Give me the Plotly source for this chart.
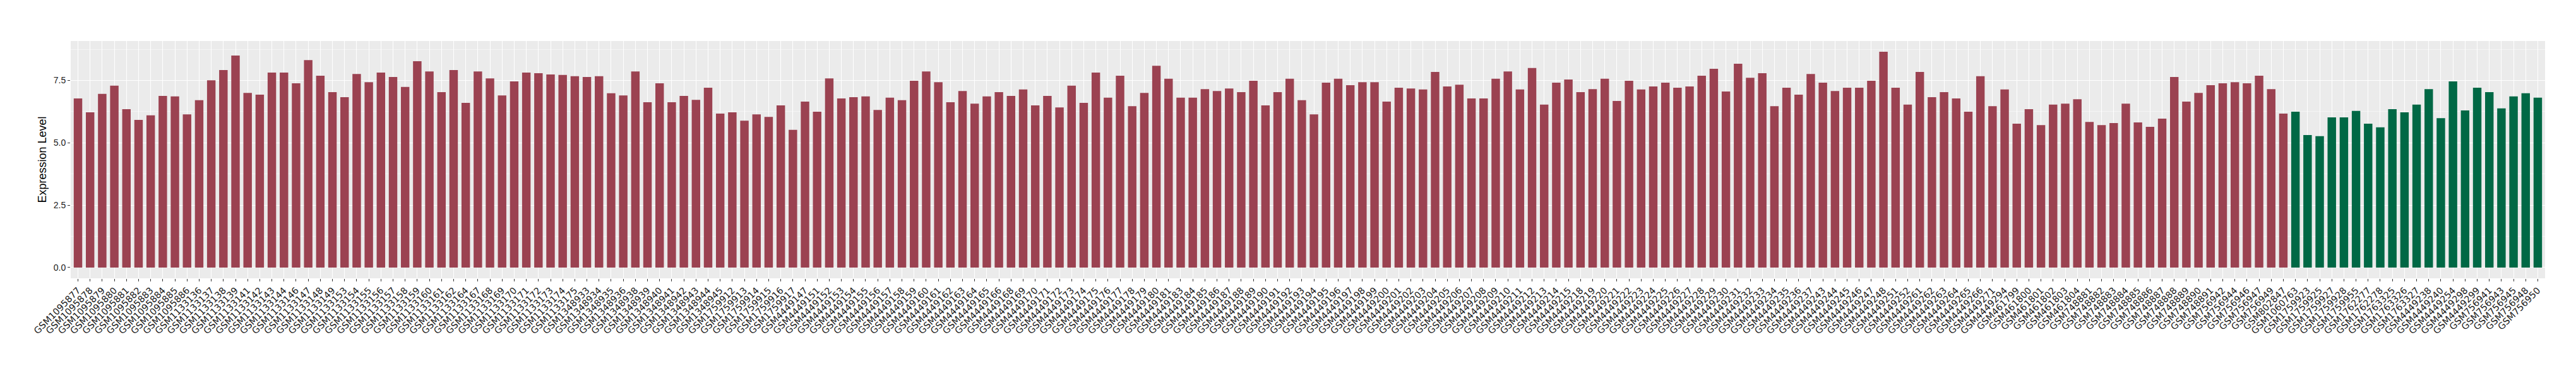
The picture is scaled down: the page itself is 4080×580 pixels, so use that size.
import plotly.graph_objects as go

samples = [
    "GSM1095877", "GSM1095878", "GSM1095879", "GSM1095880", "GSM1095881",
    "GSM1095882", "GSM1095883", "GSM1095884", "GSM1095885", "GSM1095886",
    "GSM1133136", "GSM1133137", "GSM1133138", "GSM1133139", "GSM1133141",
    "GSM1133142", "GSM1133143", "GSM1133144", "GSM1133146", "GSM1133147",
    "GSM1133148", "GSM1133149", "GSM1133153", "GSM1133154", "GSM1133155",
    "GSM1133156", "GSM1133157", "GSM1133158", "GSM1133159", "GSM1133160",
    "GSM1133161", "GSM1133162", "GSM1133164", "GSM1133167", "GSM1133168",
    "GSM1133169", "GSM1133170", "GSM1133171", "GSM1133172", "GSM1133173",
    "GSM1133174", "GSM1133175", "GSM1348933", "GSM1348934", "GSM1348935",
    "GSM1348936", "GSM1348938", "GSM1348939", "GSM1348940", "GSM1348941",
    "GSM1348942", "GSM1348943", "GSM1348944", "GSM1348945", "GSM1759912",
    "GSM1759913", "GSM1759914", "GSM1759915", "GSM1759916", "GSM1759917",
    "GSM4449147", "GSM4449151", "GSM4449152", "GSM4449153", "GSM4449154",
    "GSM4449155", "GSM4449156", "GSM4449157", "GSM4449158", "GSM4449159",
    "GSM4449160", "GSM4449161", "GSM4449162", "GSM4449163", "GSM4449164",
    "GSM4449165", "GSM4449166", "GSM4449168", "GSM4449169", "GSM4449170",
    "GSM4449171", "GSM4449172", "GSM4449173", "GSM4449174", "GSM4449175",
    "GSM4449176", "GSM4449177", "GSM4449178", "GSM4449179", "GSM4449180",
    "GSM4449181", "GSM4449183", "GSM4449184", "GSM4449185", "GSM4449186",
    "GSM4449187", "GSM4449188", "GSM4449189", "GSM4449190", "GSM4449191",
    "GSM4449192", "GSM4449193", "GSM4449194", "GSM4449195", "GSM4449196",
    "GSM4449197", "GSM4449198", "GSM4449199", "GSM4449200", "GSM4449201",
    "GSM4449202", "GSM4449203", "GSM4449204", "GSM4449205", "GSM4449206",
    "GSM4449207", "GSM4449208", "GSM4449209", "GSM4449210", "GSM4449211",
    "GSM4449212", "GSM4449213", "GSM4449214", "GSM4449215", "GSM4449218",
    "GSM4449219", "GSM4449220", "GSM4449221", "GSM4449222", "GSM4449223",
    "GSM4449224", "GSM4449225", "GSM4449226", "GSM4449227", "GSM4449228",
    "GSM4449229", "GSM4449230", "GSM4449231", "GSM4449232", "GSM4449233",
    "GSM4449234", "GSM4449235", "GSM4449236", "GSM4449237", "GSM4449243",
    "GSM4449244", "GSM4449245", "GSM4449246", "GSM4449247", "GSM4449248",
    "GSM4449251", "GSM4449252", "GSM4449261", "GSM4449262", "GSM4449263",
    "GSM4449264", "GSM4449265", "GSM4449266", "GSM4449271", "GSM4449294",
    "GSM461799", "GSM461800", "GSM461801", "GSM461802", "GSM461803",
    "GSM461804", "GSM748881", "GSM748882", "GSM748883", "GSM748884",
    "GSM748885", "GSM748886", "GSM748887", "GSM748888", "GSM748889",
    "GSM748890", "GSM748891", "GSM756942", "GSM756944", "GSM756946",
    "GSM756947", "GSM756949", "GSM802847",
    # second group
    "GSM1060763", "GSM1759923", "GSM1759925", "GSM1759927", "GSM1759928",
    "GSM1759955", "GSM1762277", "GSM1762278", "GSM1763325", "GSM1763326",
    "GSM1763327", "GSM4449238", "GSM4449240", "GSM4449254", "GSM4449298",
    "GSM4449299", "GSM756941", "GSM756943", "GSM756945", "GSM756948",
    "GSM756950",
]

expression = [
    6.78, 6.22, 6.96, 7.29, 6.35, 5.92, 6.10, 6.88, 6.86, 6.14,
    6.71, 7.51, 7.92, 8.50, 7.00, 6.93, 7.82, 7.82, 7.39, 8.32,
    7.69, 7.03, 6.83, 7.76, 7.43, 7.82, 7.64, 7.24, 8.27, 7.86,
    7.03, 7.92, 6.60, 7.86, 7.58, 6.90, 7.46, 7.82, 7.79, 7.74,
    7.72, 7.67, 7.64, 7.67, 6.99, 6.90, 7.86, 6.63, 7.39, 6.63,
    6.88, 6.72, 7.21, 6.17, 6.22, 5.89, 6.14, 6.04, 6.50, 5.52,
    6.65, 6.25, 7.58, 6.78, 6.83, 6.86, 6.32, 6.81, 6.71, 7.49,
    7.86, 7.43, 6.63, 7.08, 6.57, 6.86, 7.03, 6.88, 7.14, 6.50,
    6.88, 6.42, 7.29, 6.60, 7.82, 6.81, 7.69, 6.47, 7.00, 8.09,
    7.57, 6.81, 6.81, 7.15, 7.08, 7.18, 7.03, 7.49, 6.50, 7.03,
    7.57, 6.71, 6.14, 7.41, 7.57, 7.31, 7.43, 7.43, 6.65, 7.21,
    7.18, 7.14, 7.84, 7.26, 7.33, 6.78, 6.78, 7.57, 7.86, 7.14,
    8.00, 6.53, 7.41, 7.54, 7.03, 7.15, 7.57, 6.68, 7.49, 7.14,
    7.26, 7.41, 7.21, 7.26, 7.69, 7.97, 7.06, 8.17, 7.61, 7.79,
    6.47, 7.21, 6.93, 7.76, 7.41, 7.08, 7.21, 7.21, 7.49, 8.65,
    7.21, 6.53, 7.84, 6.83, 7.03, 6.78, 6.25, 7.67, 6.47, 7.14,
    5.77, 6.35, 5.71, 6.53, 6.57, 6.75, 5.84, 5.71, 5.79, 6.57,
    5.82, 5.64, 5.97, 7.64, 6.65, 7.00, 7.31, 7.39, 7.43, 7.39,
    7.69, 7.15, 6.17,
    6.25, 5.31, 5.27, 6.02, 6.02, 6.28, 5.77, 5.62, 6.35, 6.22,
    6.53, 7.15, 5.99, 7.46, 6.30, 7.21, 7.03, 6.38, 6.86, 6.99,
    6.81,
]

groups = ["group1"] * 183 + ["group2"] * 21

group_colors = {"group1": "#9B4251", "group2": "#006845"}
bar_colors = [group_colors[g] for g in groups]

ymax = max(expression)

fig = go.Figure(
    go.Bar(
        x=samples,
        y=expression,
        marker=dict(color=bar_colors, line=dict(width=0)),
        showlegend=False,
    )
)

fig.update_layout(
    width=4080,
    height=580,
    margin=dict(l=104, r=57, t=57, b=147),
    plot_bgcolor="#EBEBEB",
    paper_bgcolor="white",
    bargap=0.3,
    showlegend=False,
)

fig.update_xaxes(
    type="category",
    range=[-0.6, len(samples) - 0.4],
    tickmode="array",
    tickvals=samples,
    ticktext=samples,
    tickangle=-45,
    tickfont=dict(family="DejaVu Sans", size=14.5, color="#1a1a1a"),
    ticks="outside",
    ticklen=4,
    tickcolor="#333333",
    showgrid=True,
    gridcolor="white",
    gridwidth=1.4,
    zeroline=False,
    showline=False,
)

fig.update_yaxes(
    range=[-0.05 * ymax, 1.05 * ymax],
    tick0=0,
    dtick=2.5,
    tickformat=".1f",
    tickfont=dict(family="Liberation Sans", size=14, color="#1a1a1a"),
    ticks="outside",
    ticklen=4,
    tickcolor="#333333",
    showgrid=True,
    gridcolor="white",
    gridwidth=1.4,
    minor=dict(dtick=1.25, tick0=0, showgrid=True, gridcolor="#F5F5F5", gridwidth=0.8, ticks=""),
    zeroline=False,
    showline=False,
    title=dict(
        text="Expression Level",
        font=dict(family="Liberation Sans", size=18, color="black"),
        standoff=6,
    ),
)

fig.write_html("out.html")
